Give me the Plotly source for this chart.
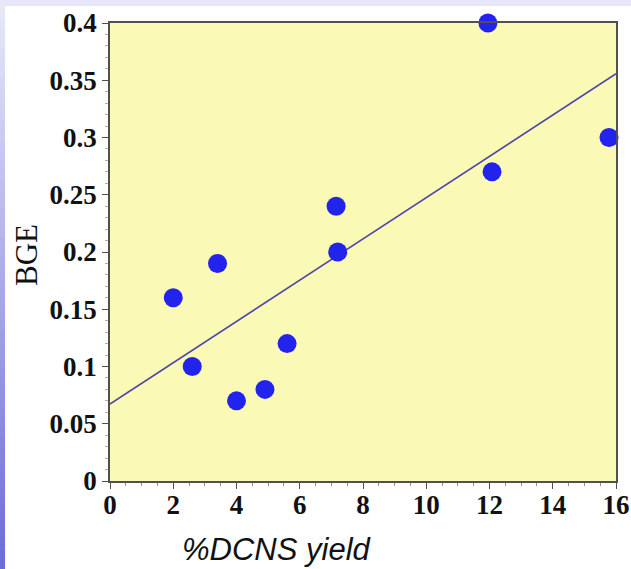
import plotly.graph_objects as go

# Measured data: DCNS yield (%) vs bacterial growth efficiency
dcns_yield = [2.0, 2.6, 3.4, 4.0, 4.9, 5.6, 7.15, 7.2, 11.95, 12.08, 15.78]
bge = [0.16, 0.10, 0.19, 0.07, 0.08, 0.12, 0.24, 0.20, 0.40, 0.27, 0.30]

# Linear fit line
fit_intercept = 0.0672
fit_slope = 0.01803
fit_x = [0, 16]
fit_y = [fit_intercept + fit_slope * v for v in fit_x]

x_ticks = [0, 2, 4, 6, 8, 10, 12, 14, 16]
y_ticks = [0, 0.05, 0.1, 0.15, 0.2, 0.25, 0.3, 0.35, 0.4]
y_tick_text = ["0", "0.05", "0.1", "0.15", "0.2", "0.25", "0.3", "0.35", "0.4"]

fig = go.Figure()
fig.add_trace(go.Scatter(
    x=fit_x, y=fit_y, mode="lines",
    line=dict(color="#5048A8", width=1.6),
    hoverinfo="skip", showlegend=False, cliponaxis=True,
))
fig.add_trace(go.Scatter(
    x=dcns_yield, y=bge, mode="markers",
    marker=dict(size=19, color="#2323EE", line=dict(width=0)),
    showlegend=False, cliponaxis=False,
))

# Lavender frame strips: gradient on the left edge, flat on the top edge
PW, PH = 506, 458  # plot area size in px
shapes = []
n = 60
step = (569 / PH) / n
top_c = (232, 232, 248)
bot_c = (108, 108, 218)
for i in range(n):
    t = i / (n - 1)
    c = tuple(round(top_c[k] + (bot_c[k] - top_c[k]) * t) for k in range(3))
    y_top = 1 + 23 / PH - i * step
    shapes.append(dict(
        type="rect", xref="paper", yref="paper",
        x0=-110 / PW, x1=-105 / PW,
        y0=max(y_top - 2.2 * step, -88 / PH), y1=y_top,
        fillcolor="rgb(%d,%d,%d)" % c, line=dict(width=0), layer="below",
    ))
shapes.append(dict(
    type="rect", xref="paper", yref="paper",
    x0=-105 / PW, x1=1 + 15 / PW, y0=1 + 17 / PH, y1=1 + 23 / PH,
    fillcolor="#E6E6F8", line=dict(width=0), layer="below",
))

tick_font = dict(family="Liberation Serif", size=27, color="#111111", weight="bold")

fig.update_layout(
    width=631, height=569,
    margin=dict(l=110, r=15, t=23, b=88),
    paper_bgcolor="white",
    plot_bgcolor="#FBF9B6",
    shapes=shapes,
    xaxis=dict(
        range=[0, 16], tickvals=x_ticks, ticktext=[str(v) for v in x_ticks],
        showgrid=False, zeroline=False, automargin=False,
        showline=True, linecolor="#505050", linewidth=1.5, mirror=True,
        ticks="outside", ticklen=6, tickwidth=1, tickcolor="#505050",
        minor=dict(dtick=0.5, ticks="outside", ticklen=3, tickcolor="#909090"),
        tickfont=tick_font, ticklabelstandoff=-7,
    ),
    yaxis=dict(
        range=[0, 0.4], tickvals=y_ticks, ticktext=y_tick_text,
        showgrid=False, zeroline=False, automargin=False,
        showline=True, linecolor="#505050", linewidth=1.5, mirror=True,
        ticks="outside", ticklen=6, tickwidth=1, tickcolor="#505050",
        minor=dict(dtick=0.01, ticks="outside", ticklen=3, tickcolor="#b0b0b0"),
        tickfont=tick_font,
    ),
    annotations=[
        dict(text="BGE", xref="paper", yref="paper",
             x=-84 / PW, y=(481 - 255) / PH, textangle=-90,
             showarrow=False, xanchor="center", yanchor="middle",
             font=dict(family="Liberation Serif", size=31, color="#111111")),
        dict(text="<i>%DCNS yield</i>", xref="paper", yref="paper",
             x=(277 - 110) / PW, y=-(549 - 481) / PH,
             showarrow=False, xanchor="center", yanchor="middle",
             font=dict(family="Liberation Sans", size=31, color="#111111")),
    ],
)

fig.write_html("out.html")
